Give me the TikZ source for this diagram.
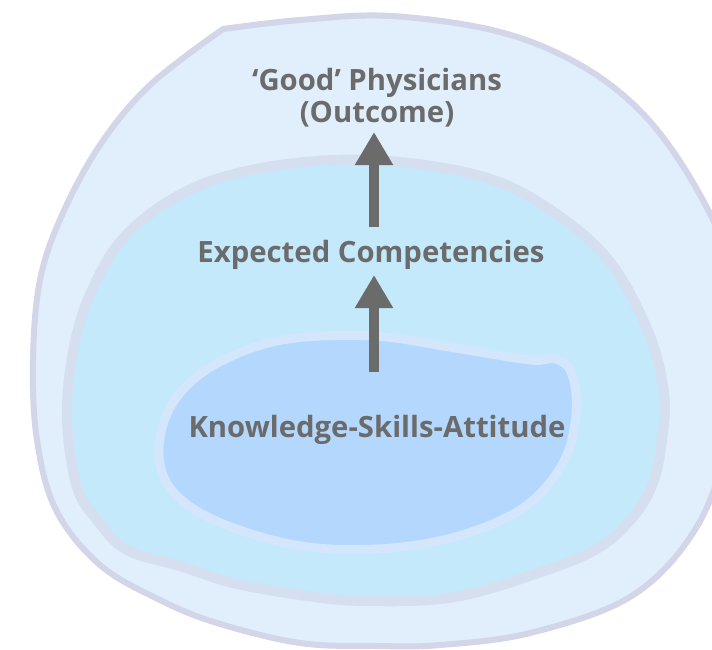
\documentclass[tikz,border=0pt]{standalone}
\usepackage{fontspec}
\setmainfont{Open Sans}
\usetikzlibrary{arrows.meta}
\definecolor{outerfill}{HTML}{E1EEFC}
\definecolor{outerline}{HTML}{D3D5E8}
\definecolor{midfill}{HTML}{C3E9FB}
\definecolor{midline}{HTML}{D6DFF0}
\definecolor{innerfill}{HTML}{B4D8FD}
\definecolor{innerline}{HTML}{D3E6FB}
\definecolor{labelgray}{HTML}{6B6B6B}
\tikzset{
  blob/.style={smooth cycle, tension=0.6},
  label/.style={text=labelgray, font=\fontsize{29.3}{33}\selectfont\bfseries, inner sep=0pt, anchor=base},
  bigarrow/.style={draw=labelgray, line width=10pt, -{Triangle[width=36pt,length=33pt]}},
}
\begin{document}
\begin{tikzpicture}[x=1pt,y=-1pt]
\useasboundingbox (0,0) rectangle (712,649);
\clip (0,0) rectangle (712,649);
\fill[white] (0,0) rectangle (712,649);
% outer region, with one corner at the upper left
\draw[fill=outerfill, draw=outerline, line width=6pt, line join=round]
  plot[smooth, tension=0.6] coordinates {(223,29) (300,20) (391,16) (500,32) (582,66)
    (645,116) (695,186) (728,260) (740,350) (726,450) (693,533) (630,597) (530,633)
    (440,645) (377,646) (300,643) (217,623) (160,600) (100,565) (56,510) (37,440)
    (33,360) (40,280) (62,215) (100,145) (150,85) (223,29)} -- cycle;
% middle region
\draw[fill=midfill, draw=midline, line width=10pt]
  plot[blob] coordinates {(373,160) (273,166) (191,189) (127,234) (91,292) (73,352)
    (67,420) (77,487) (97,520) (127,550) (183,567) (233,583) (300,595) (364,601)
    (455,597) (547,570) (600,547) (633,517) (653,483) (662,440) (664,393) (648,331)
    (607,258) (543,205) (477,175)};
% inner region
\draw[fill=innerfill, draw=innerline, line width=9pt]
  plot[blob] coordinates {(373,336) (282,340) (214,365) (174,401) (159,447) (170,488)
    (214,520) (295,545) (377,549) (455,537) (523,508) (563,463) (576,414) (572,374)
    (556,359) (530,360) (455,348)};
% labels
\node[label] (good) at (377,90) {‘Good’ Physicians};
\node[label] (outcome) at (377,122) {(Outcome)};
\node[label] (exp) at (371,262) {Expected Competencies};
\node[label] (ksa) at (377,437) {Knowledge-Skills-Attitude};
% arrows between levels
\coordinate (a1s) at (374,227);
\coordinate (a1t) at (374,132);
\coordinate (a2s) at (374,372);
\coordinate (a2t) at (374,275);
\draw[bigarrow] (a1s) -- (a1t);
\draw[bigarrow] (a2s) -- (a2t);
\end{tikzpicture}
\end{document}
